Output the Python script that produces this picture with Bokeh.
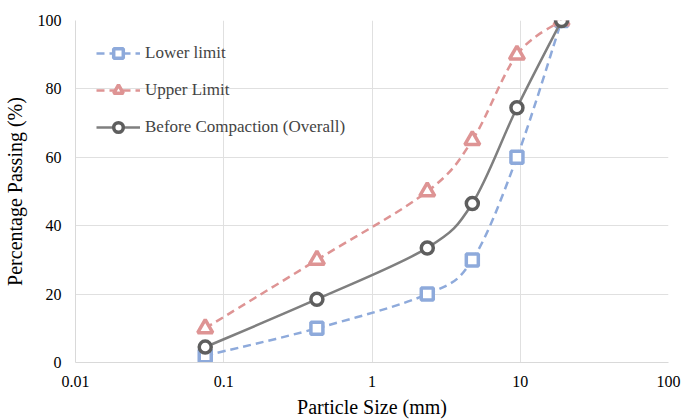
import numpy as np
from bokeh.plotting import figure
from bokeh.models import (ColumnDataSource, FixedTicker, CustomJSTickFormatter,
                          Legend, LegendItem, Range1d)
from bokeh.embed import file_html
from bokeh.resources import INLINE

# ---- data ----
sieve_mm = [0.075, 0.425, 2.36, 4.75, 9.5, 19.0]
lower_limit = [2, 10, 20, 30, 60, 100]
upper_limit = [10, 30, 50, 65, 90, 100]
before_compaction = [4.5, 18.5, 33.5, 46.5, 74.5, 100]
series_names = ["Lower limit", "Upper Limit", "Before Compaction (Overall)"]
x_ticks = [0.01, 0.1, 1, 10, 100]
y_ticks = [0, 20, 40, 60, 80, 100]

FONT = "Liberation Serif"
BLUE = "#8eaadb"
RED = "#de9494"
GRAY = "#7f7f7f"
GRAY_M = "#5e5e5e"


def smooth_segments(xs, ys):
    """Excel-like smoothed line: Catmull-Rom converted to cubic Bezier segments
    in (log10 x, y) space, which maps affinely to screen space."""
    lx = np.log10(np.asarray(xs, float))
    y = np.asarray(ys, float)
    n = len(lx)
    d = dict(x0=[], y0=[], x1=[], y1=[], cx0=[], cy0=[], cx1=[], cy1=[])
    for i in range(n - 1):
        p0 = max(i - 1, 0)
        p3 = min(i + 2, n - 1)
        c0x = lx[i] + (lx[i + 1] - lx[p0]) / 6
        c0y = y[i] + (y[i + 1] - y[p0]) / 6
        c1x = lx[i + 1] - (lx[p3] - lx[i]) / 6
        c1y = y[i + 1] - (y[p3] - y[i]) / 6
        d["x0"].append(10 ** lx[i]); d["y0"].append(y[i])
        d["x1"].append(10 ** lx[i + 1]); d["y1"].append(y[i + 1])
        d["cx0"].append(10 ** c0x); d["cy0"].append(c0y)
        d["cx1"].append(10 ** c1x); d["cy1"].append(c1y)
    return ColumnDataSource(d)


p = figure(width=689, height=420, x_axis_type="log", output_backend="svg",
           toolbar_location=None, x_range=Range1d(0.01, 100), y_range=Range1d(0, 100),
           min_border_left=74, min_border_right=21, min_border_top=20, min_border_bottom=57)
p.outline_line_color = None
p.background_fill_color = "white"
p.border_fill_color = "white"

for ax in (p.xaxis[0], p.yaxis[0]):
    ax.axis_line_color = "#d9d9d9"
    ax.axis_line_width = 1
    ax.major_tick_line_color = None
    ax.minor_tick_line_color = None
    ax.major_label_text_font = FONT
    ax.major_label_text_font_size = "16px"
    ax.major_label_text_color = "black"
    ax.axis_label_text_font = FONT
    ax.axis_label_text_font_style = "normal"
    ax.axis_label_text_color = "black"

p.xaxis.ticker = FixedTicker(ticks=x_ticks)
p.xaxis.formatter = CustomJSTickFormatter(code="return tick.toString();")
p.yaxis.ticker = FixedTicker(ticks=y_ticks)
p.xaxis.axis_label = "Particle Size (mm)"
p.yaxis.axis_label = "Percentage Passing (%)"
p.xaxis.axis_label_text_font_size = "20px"
p.yaxis.axis_label_text_font_size = "20px"
p.xaxis.major_label_standoff = 7
p.yaxis.major_label_standoff = 8
p.xaxis.axis_label_standoff = 6
p.yaxis.axis_label_standoff = 9

p.xgrid.ticker = FixedTicker(ticks=x_ticks)
p.ygrid.ticker = FixedTicker(ticks=y_ticks)
p.xgrid.grid_line_color = "#e0e0e0"
p.ygrid.grid_line_color = "#e0e0e0"

styles = [
    dict(data=lower_limit, color=BLUE, mcolor=BLUE, dash="8 5", marker="square", size=12),
    dict(data=upper_limit, color=RED, mcolor=RED, dash="8 5", marker="triangle", size=15),
    dict(data=before_compaction, color=GRAY, mcolor=GRAY_M, dash="solid", marker="circle", size=12),
]

items = []
for name, st in zip(series_names, styles):
    src = smooth_segments(sieve_mm, st["data"])
    p.bezier(x0="x0", y0="y0", x1="x1", y1="y1", cx0="cx0", cy0="cy0",
             cx1="cx1", cy1="cy1", source=src, line_color=st["color"],
             line_width=2.5, line_dash=st["dash"])
    # single-point line: draws nothing on the chart, only supplies the legend glyph
    leg_line = p.line(x=sieve_mm[:1], y=st["data"][:1], line_color=st["color"],
                      line_width=2.5, line_dash=st["dash"])
    sc = p.scatter(x=sieve_mm, y=st["data"], marker=st["marker"], size=st["size"],
                   line_color=st["mcolor"], line_width=3.5, fill_color="white")
    items.append(LegendItem(label=name, renderers=[leg_line, sc]))

legend = Legend(items=items, location="top_left", border_line_color=None,
                background_fill_alpha=0, label_text_font=FONT,
                label_text_font_size="17px", glyph_width=44, glyph_height=24,
                spacing=13, label_standoff=5, padding=2, margin=21)
p.add_layout(legend)

open("out.html", "w").write(file_html(p, INLINE))
